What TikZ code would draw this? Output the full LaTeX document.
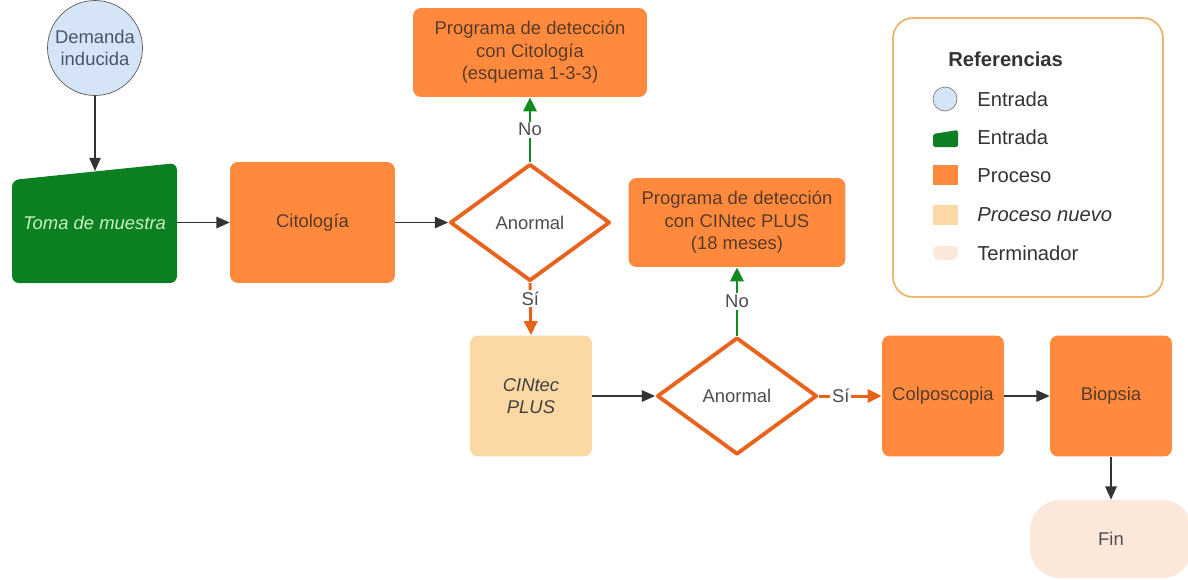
\documentclass[tikz,border=0pt]{standalone}
\usepackage{fontspec}
\setmainfont{Liberation Sans}
\usetikzlibrary{arrows.meta,shapes.geometric}
\definecolor{procorange}{HTML}{FF8A3D}
\definecolor{dstroke}{HTML}{E8641E}
\definecolor{entgreen}{HTML}{0B7F22}
\definecolor{lightgreen}{HTML}{C4F2BE}
\definecolor{circblue}{HTML}{D5E5F7}
\definecolor{newproc}{HTML}{FCD8A4}
\definecolor{termfill}{HTML}{FCE8DB}
\definecolor{legborder}{HTML}{EDB46A}
\definecolor{txtbrown}{HTML}{5A3A28}
\definecolor{txtgrey}{HTML}{4D4D4D}
\definecolor{txtblue}{HTML}{4A5568}
\definecolor{arrowdark}{HTML}{333333}
\definecolor{arrgreen}{HTML}{118A1E}
\definecolor{arrorange}{HTML}{E8621A}
\begin{document}
\begin{tikzpicture}[x=0.02cm,y=-0.02cm,
  base/.style={font=\fontsize{10.5}{12.8}\selectfont, align=center, inner sep=0pt},
  proc/.style={base, fill=procorange, rounded corners=0.16cm, text=txtbrown},
  dec/.style={base, diamond, draw=dstroke, line width=2.2pt, line join=round, minimum width=3.2cm, minimum height=2.34cm, text=txtgrey, fill=white},
  blk/.style={draw=arrowdark, line width=0.8pt, -{Triangle[length=7.5pt,width=6.5pt]}},
  yes/.style={draw=arrorange, line width=1.7pt, -{Triangle[length=8pt,width=7.5pt]}},
  no/.style={draw=arrgreen, line width=1.7pt, -{Triangle[length=8pt,width=7.5pt]}},
  lab/.style={base, fill=white, text=txtgrey, inner sep=1pt},
  legtxt/.style={font=\fontsize{11.5}{14}\selectfont, text=black!80, anchor=west, inner sep=0pt}
]
\useasboundingbox (0,0) rectangle (1188,579);

% legend
\node[draw=legborder, line width=1pt, rounded corners=0.4cm, fill=white, minimum width=5.4cm, minimum height=5.58cm] (legend) at (1028,157.5) {};
\node[legtxt, font=\bfseries\fontsize{11.5}{14}\selectfont] (legtitle) at (948,59) {Referencias};
\draw[fill=circblue, draw=gray] (945,99) circle[radius=12];
\fill[entgreen, rounded corners=1pt] (933,134) -- (958,130) -- (958,147) -- (933,147) -- cycle;
\fill[procorange] (933,165) rectangle (958,185);
\fill[newproc] (933,205) rectangle (958,225);
\fill[termfill, rounded corners=3pt] (933,246) rectangle (958,260);
\node[legtxt] (l1) at (977,99) {Entrada};
\node[legtxt] (l2) at (977,137) {Entrada};
\node[legtxt] (l3) at (977,176) {Proceso};
\node[legtxt, font=\itshape\fontsize{11.5}{14}\selectfont] (l4) at (977,215) {Proceso nuevo};
\node[legtxt] (l5) at (977,253) {Terminador};

% main flow
\node[base, circle, draw=gray!70!black, fill=circblue, minimum size=1.9cm, text=txtblue] (dem) at (95,48) {Demanda\\inducida};
\fill[entgreen, rounded corners=0.14cm] (12,180) -- (177,163) -- (177,283) -- (12,283) -- cycle;
\node[base, minimum width=3.3cm, minimum height=2.4cm, text=lightgreen, font={\itshape\fontsize{10.5}{12.8}\selectfont}] (toma) at (94.5,222.5) {\raisebox{-0.12cm}{Toma de muestra}};
\coordinate (tomatop) at (95,171);
\node[proc, minimum width=3.3cm, minimum height=2.42cm] (cito) at (312.5,222.5) {Citología};
\node[dec] (d1) at (530,222.5) {Anormal};
\node[proc, minimum width=4.68cm, minimum height=1.78cm] (prog1) at (530,52.5) {Programa de detección\\con Citología\\(esquema 1-3-3)};
\node[proc, fill=newproc, text=black!75, font={\itshape\fontsize{10.5}{12.8}\selectfont}, minimum width=2.44cm, minimum height=2.42cm] (cintec) at (531,396) {CINtec\\PLUS};
\node[dec] (d2) at (737,396) {Anormal};
\node[proc, minimum width=4.34cm, minimum height=1.78cm] (prog2) at (737,222.5) {Programa de detección\\con CINtec PLUS\\(18 meses)};
\node[proc, minimum width=2.44cm, minimum height=2.42cm] (colpo) at (943,396) {Colposcopia};
\node[proc, minimum width=2.44cm, minimum height=2.42cm] (biop) at (1111,396) {Biopsia};
\node[base, fill=termfill, rounded corners=0.6cm, minimum width=3.24cm, minimum height=1.56cm, text=txtgrey] (fin) at (1111,539) {Fin};

% connectors
\draw[blk] (dem.south) -- (tomatop);
\draw[blk] (toma.east) -- (cito.west);
\draw[blk] (cito.east) -- (d1.west);
\draw[no] (d1.north) -- node[lab] {No} (prog1.south);
\draw[yes] (d1.south) -- node[lab, pos=0.3] {Sí} (cintec.north);
\draw[blk] (cintec.east) -- (d2.west);
\draw[no] (d2.north) -- node[lab] {No} (prog2.south);
\draw[yes] (d2.east) -- node[lab, pos=0.35] {Sí} (colpo.west);
\draw[blk] (colpo.east) -- (biop.west);
\draw[blk] (biop.south) -- (fin.north);
\end{tikzpicture}
\end{document}
